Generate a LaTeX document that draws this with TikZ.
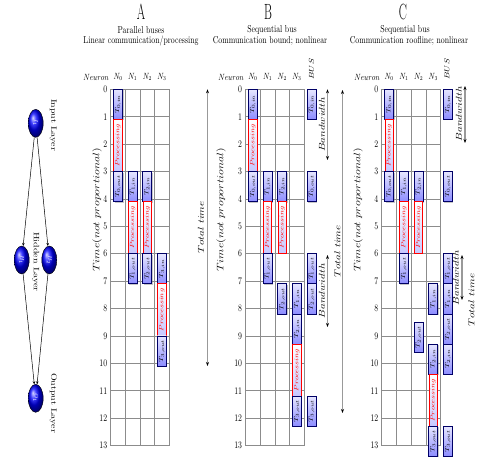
\documentclass[tikz,border=0pt]{standalone}
\usepackage{fontspec}
\usetikzlibrary{arrows.meta,shapes.geometric,shadows}

\newcommand{\hsq}[1]{\scalebox{0.78}[1]{#1}}
\newcommand{\vsq}[1]{\scalebox{1}[0.78]{#1}}
\newcommand{\blab}[1]{\rotatebox{90}{\scalebox{1}[0.75]{\fontsize{8.5}{8.5}\selectfont$#1$}}}
\newcommand{\rlab}{\rotatebox{90}{\scalebox{1}[0.75]{\fontsize{8}{8}\selectfont\color{red}$Processing$}}}
\newcommand{\bluebox}[4]{\node[bbox] (#1) at (#2+0.5,#3+0.55) {\blab{#4}};}
\newcommand{\redbox}[3]{\node[rbox] (#1) at (#2+0.5,#3+0.95) {\rlab};}
\newcommand{\panelgrid}[1]{%
  \foreach \r in {0,...,13} {\draw[gridline] (0,\r) -- (4,\r);
     \node[numlab] (#1n\r) at (-0.22,\r) {\hsq{\r}};}
  \foreach \c in {0,...,4} \draw[gridline] (\c,0) -- (\c,13);
  \foreach \c in {0,...,3} \node[nlab] (#1N\c) at (\c+0.5,-0.45) {\hsq{$N_\c$}};
}

\tikzset{
  gridline/.style={draw=black!45, line width=0.8pt},
  numlab/.style={anchor=east, inner sep=0pt, font=\fontsize{10}{10}\selectfont},
  nlab/.style={inner sep=0pt, font=\fontsize{9}{9}\selectfont},
  bbox/.style={rectangle, draw=blue!40!black, line width=0.8pt, top color=blue!10, bottom color=blue!45,
     minimum width=9pt, minimum height=30.1pt, inner sep=0pt,
     drop shadow={shadow xshift=1pt, shadow yshift=-1pt, opacity=0.45}},
  rbox/.style={rectangle, draw=red, line width=0.8pt, top color=white, bottom color=blue!22,
     minimum width=8.5pt, minimum height=52.1pt, inner sep=0pt},
  ttl/.style={inner sep=0pt, font=\fontsize{22}{22}\selectfont},
  sub/.style={inner sep=0pt, font=\fontsize{10}{10}\selectfont},
  rlabel/.style={inner sep=0pt, rotate=90, font=\fontsize{11}{11}\selectfont},
  tarrow/.style={draw=black!40, line width=1.2pt,
     {Stealth[black,length=4pt,width=3pt]}-{Stealth[black,length=4pt,width=3pt]}},
  nn/.style={ellipse, draw=black, line width=0.4pt, ball color=blue, minimum width=15pt, minimum height=28pt, inner sep=0pt},
  nnedge/.style={draw=black, line width=0.5pt, -{Stealth[length=3pt,width=2.5pt]}},
  layer/.style={inner sep=0pt, rotate=-90, font=\fontsize{10}{10}\selectfont},
}

\begin{document}
\begin{tikzpicture}[x=1pt,y=-1pt]
\useasboundingbox (0,0) rectangle (477,459);

% ---------- neural network ----------
\node[nn] (in) at (35.7,123.3) {\rotatebox{-90}{\tiny\color{white}$I_1$}};
\node[nn] (h1) at (21.7,260) {\rotatebox{-90}{\tiny\color{white}$H_1$}};
\node[nn] (h2) at (49.3,260) {\rotatebox{-90}{\tiny\color{white}$H_2$}};
\node[nn] (out) at (35.7,398.3) {\rotatebox{-90}{\tiny\color{white}$O_1$}};
\draw[nnedge] (in) -- (h1);
\draw[nnedge] (in) -- (h2);
\draw[nnedge] (h1) -- (out);
\draw[nnedge] (h2) -- (out);
\node[layer] (lin) at (53.3,125) {\vsq{Input Layer}};
\node[layer] (lhid) at (35.7,262) {\vsq{Hidden Layer}};
\node[layer] (lout) at (53.3,403) {\vsq{Output Layer}};

% ---------- titles ----------
\node[ttl] (tA) at (141,12) {\scalebox{0.55}[1]{A}};
\node[sub] (sA1) at (141,30) {\hsq{Parallel buses}};
\node[sub] (sA2) at (141,41) {\hsq{Linear communication/processing}};
\node[ttl] (tB) at (268,12) {\scalebox{0.55}[1]{B}};
\node[sub] (sB1) at (272,30) {\hsq{Sequential bus}};
\node[sub] (sB2) at (270,41) {\hsq{Communication bound; nonlinear}};
\node[ttl] (tC) at (403,12) {\scalebox{0.55}[1]{C}};
\node[sub] (sC1) at (405,30) {\hsq{Sequential bus}};
\node[sub] (sC2) at (409,41) {\hsq{Communication roofline; nonlinear}};

\node[nlab] (neuA) at (96,77) {\hsq{$Neuron$}};
\node[nlab] (neuB) at (231,77) {\hsq{$Neuron$}};
\node[nlab] (neuC) at (367,77) {\hsq{$Neuron$}};
\node[nlab, rotate=90] (busB) at (311.5,69) {\vsq{$BUS$}};
\node[nlab, rotate=90] (busC) at (447,69) {\vsq{$BUS$}};

\node[rlabel, font=\fontsize{12}{12}\selectfont] (timeA) at (97,210) {\vsq{$Time(not\ proportional)$}};
\node[rlabel, font=\fontsize{12}{12}\selectfont] (timeB) at (221,210) {\vsq{$Time(not\ proportional)$}};
\node[rlabel, font=\fontsize{12}{12}\selectfont] (timeC) at (358,210) {\vsq{$Time(not\ proportional)$}};

% ---------- panel A ----------
\begin{scope}[shift={(110.7,89.3)}, x=14.65pt, y=-27.4pt]
\panelgrid{A}
\bluebox{a1}{0}{0}{T_{0,in}}
\redbox{a2}{0}{1.1}
\bluebox{a3}{0}{3}{T_{0,out}}
\bluebox{a4}{1}{3}{T_{1,in}}
\bluebox{a5}{2}{3}{T_{2,in}}
\redbox{a6}{1}{4.1}
\redbox{a7}{2}{4.1}
\bluebox{a8}{1}{6}{T_{1,out}}
\bluebox{a9}{2}{6}{T_{2,out}}
\bluebox{a10}{3}{6}{T_{3,in}}
\redbox{a11}{3}{7.1}
\bluebox{a12}{3}{9}{T_{3,out}}
\end{scope}

% ---------- panel B ----------
\begin{scope}[shift={(245.5,89.3)}, x=14.7pt, y=-27.4pt]
\panelgrid{B}
\bluebox{b1}{0}{0}{T_{0,in}}
\bluebox{b2}{4}{0}{T_{0,in}}
\redbox{b3}{0}{1.1}
\bluebox{b4}{0}{3}{T_{0,out}}
\bluebox{b5}{4}{3}{T_{0,out}}
\bluebox{b6}{1}{3}{T_{1,in}}
\bluebox{b7}{2}{3}{T_{2,in}}
\redbox{b8}{1}{4.1}
\redbox{b9}{2}{4.1}
\bluebox{b10}{1}{6}{T_{1,out}}
\bluebox{b11}{4}{6}{T_{1,out}}
\bluebox{b12}{2}{7.1}{T_{2,out}}
\bluebox{b13}{4}{7.1}{T_{2,out}}
\bluebox{b14}{3}{7.1}{T_{1,in}}
\bluebox{b15}{3}{8.2}{T_{2,in}}
\redbox{b16}{3}{9.3}
\bluebox{b17}{3}{11.2}{T_{3,out}}
\bluebox{b18}{4}{11.2}{T_{3,out}}
\end{scope}

% ---------- panel C ----------
\begin{scope}[shift={(381.8,89.3)}, x=14.7pt, y=-27.4pt]
\panelgrid{C}
\bluebox{c1}{0}{0}{T_{0,in}}
\bluebox{c2}{4}{0}{T_{0,in}}
\redbox{c3}{0}{1.1}
\bluebox{c4}{0}{3}{T_{0,out}}
\bluebox{c5}{4}{3}{T_{0,out}}
\bluebox{c6}{1}{3}{T_{1,in}}
\bluebox{c7}{2}{3}{T_{2,in}}
\redbox{c8}{1}{4.1}
\redbox{c9}{2}{4.1}
\bluebox{c10}{1}{6}{T_{1,out}}
\bluebox{c11}{4}{6}{T_{1,out}}
\bluebox{c12}{4}{7.1}{T_{1,in}}
\bluebox{c13}{3}{7.1}{T_{1,in}}
\bluebox{c14}{2}{8.5}{T_{2,out}}
\bluebox{c15}{4}{8.2}{T_{2,out}}
\bluebox{c16}{4}{9.3}{T_{2,in}}
\bluebox{c17}{3}{9.3}{T_{2,in}}
\redbox{c18}{3}{10.4}
\bluebox{c19}{3}{12.3}{T_{3,out}}
\bluebox{c20}{4}{12.3}{T_{3,out}}
\end{scope}

% ---------- arrows ----------
\coordinate (ttAt) at (207.5,89.3);
\coordinate (ttAb) at (207.5,366);
\draw[tarrow] (ttAt) -- (ttAb);
\node[rlabel] (ttA) at (201,227.6) {\vsq{$Total\ time$}};

\coordinate (ttBt) at (342.5,90);
\coordinate (ttBb) at (342.5,413);
\draw[tarrow] (ttBt) -- (ttBb);
\node[rlabel] (ttB) at (337.5,251.5) {\vsq{$Total\ time$}};

\coordinate (bwB1t) at (327.5,89.3);
\coordinate (bwB1b) at (327.5,160);
\draw[tarrow] (bwB1t) -- (bwB1b);
\node[rlabel] (bwB1) at (322,124.6) {\vsq{$Bandwidth$}};
\coordinate (bwB2t) at (327.5,255);
\coordinate (bwB2b) at (327.5,327);
\draw[tarrow] (bwB2t) -- (bwB2b);
\node[rlabel] (bwB2) at (322,291) {\vsq{$Bandwidth$}};

\coordinate (bwC1t) at (465,86);
\coordinate (bwC1b) at (465,143);
\draw[tarrow] (bwC1t) -- (bwC1b);
\node[rlabel] (bwC1) at (459,114) {\vsq{$Bandwidth$}};
\coordinate (bwC2t) at (462,255);
\coordinate (bwC2b) at (462,300);
\draw[tarrow] (bwC2t) -- (bwC2b);
\node[rlabel] (bwC2) at (456,278) {\vsq{$Bandwidth$}};
\node[rlabel] (ttC) at (471.5,300) {\vsq{$Total\ time$}};
\end{tikzpicture}
\end{document}
